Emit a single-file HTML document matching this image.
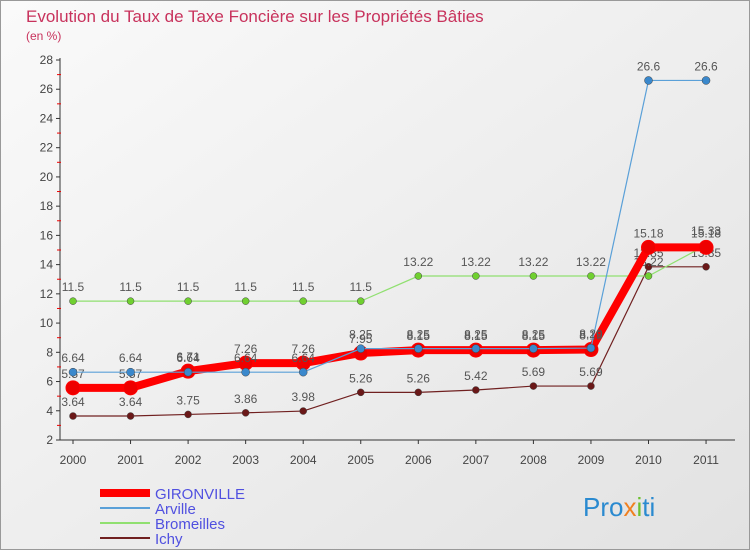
<!DOCTYPE html>
<html><head><meta charset="utf-8"><style>
body{margin:0;width:750px;height:550px;overflow:hidden;font-family:"Liberation Sans",sans-serif}
</style></head><body>
<svg id="c" width="750" height="550" xmlns="http://www.w3.org/2000/svg">
<defs><linearGradient id="bg" x1="0" y1="0" x2="1" y2="1"><stop offset="0" stop-color="#fafafa"/><stop offset="1" stop-color="#e2e2e2"/></linearGradient></defs>
<rect x="0.5" y="0.5" width="749" height="549" fill="url(#bg)" stroke="#999"/>
<text x="26" y="22" font-size="17" fill="#c8325c">Evolution du Taux de Taxe Foncière sur les Propriétés Bâties</text>
<text x="26" y="40" font-size="12" fill="#c8325c">(en %)</text>
<g id="axes"></g><g id="series"></g><g id="legend"></g>
<text x="583" y="516" font-size="26" fill="#2a8ad0">Pro<tspan fill="#f08020">x</tspan><tspan fill="#6cc030">i</tspan>ti</text>
</svg>
<script>
const years=["2000","2001","2002","2003","2004","2005","2006","2007","2008","2009","2010","2011"];
const gironville=[5.57,5.57,6.71,7.26,7.26,7.95,8.15,8.15,8.15,8.19,15.18,15.18];
const arville=[6.64,6.64,6.64,6.64,6.64,8.25,8.25,8.25,8.25,8.29,26.6,26.6];
const bromeilles=[11.5,11.5,11.5,11.5,11.5,11.5,13.22,13.22,13.22,13.22,13.22,15.33];
const ichy=[3.64,3.64,3.75,3.86,3.98,5.26,5.26,5.42,5.69,5.69,13.85,13.85];
const yTicks=[2,4,6,8,10,12,14,16,18,20,22,24,26,28];
const NS="http://www.w3.org/2000/svg";
const X=i=>73+i*57.55, Y=v=>440-(v-2)*(380/26);
function mk(p,t,a){const e=document.createElementNS(NS,t);for(const k in a)e.setAttribute(k,a[k]);p.appendChild(e);return e;}
const ax=document.getElementById('axes');
let l=mk(ax,'line',{x1:60,y1:58,x2:60,y2:440,stroke:'#333'});

l=mk(ax,'line',{x1:60,y1:440,x2:735,y2:440,stroke:'#333'});

yTicks.forEach(v=>{const y=Y(v);mk(ax,'line',{x1:56,y1:y,x2:60,y2:y,stroke:'#333'});
 if(v<28)mk(ax,'line',{x1:57,y1:Y(v+1),x2:61,y2:Y(v+1),stroke:'#e00'});
 const t=mk(ax,'text',{x:53,y:y+4,'font-size':12,'text-anchor':'end',fill:'#444'});t.textContent=v;
 });
years.forEach((yr,i)=>{const x=X(i);mk(ax,'line',{x1:x,y1:440,x2:x,y2:444,stroke:'#333'});
 const t=mk(ax,'text',{x:x,y:464,'font-size':12,'text-anchor':'middle',fill:'#444'});t.textContent=yr;
 });
const sg=document.getElementById('series');
const defs=[
 {n:'ichy',d:ichy,c:'#702020',w:1.2,r:3.5,f:'#6a1818'},
 {n:'bromeilles',d:bromeilles,c:'#90e070',w:1.2,r:3.5,f:'#70d030'},
 {n:'gironville',d:gironville,c:'#f00',w:8,r:7,f:'#e00'},
 {n:'arville',d:arville,c:'#5aa0d8',w:1.2,r:4,f:'#3a88cc'}];
defs.forEach(s=>{const g=mk(sg,'g',{});
 
 const pl=mk(g,'polyline',{points:s.d.map((v,i)=>X(i)+','+Y(v)).join(' '),fill:'none',stroke:s.c,'stroke-width':s.w});
 
 s.d.forEach((v,i)=>{const c=mk(g,'circle',{cx:X(i),cy:Y(v),r:s.r,fill:s.f,stroke:s.n==='gironville'?'#f00':'#444','stroke-width':s.n==='gironville'?1:0.5});
  
  const t=mk(g,'text',{x:X(i),y:Y(v)-10,'font-size':12,'text-anchor':'middle',fill:'#555'});t.textContent=v;
  });});
const lg=document.getElementById('legend');
[['GIRONVILLE','#f00',8],['Arville','#5aa0d8',2],['Bromeilles','#90e070',2],['Ichy','#702020',2]].forEach((e,i)=>{
 const y=493+i*15;const g=mk(lg,'g',{});
 
 mk(g,'line',{x1:100,y1:y,x2:150,y2:y,stroke:e[1],'stroke-width':e[2]});
 const t=mk(g,'text',{x:155,y:y+6,'font-size':15,fill:'#5050e0'});t.textContent=e[0];});
</script>
</body></html>
